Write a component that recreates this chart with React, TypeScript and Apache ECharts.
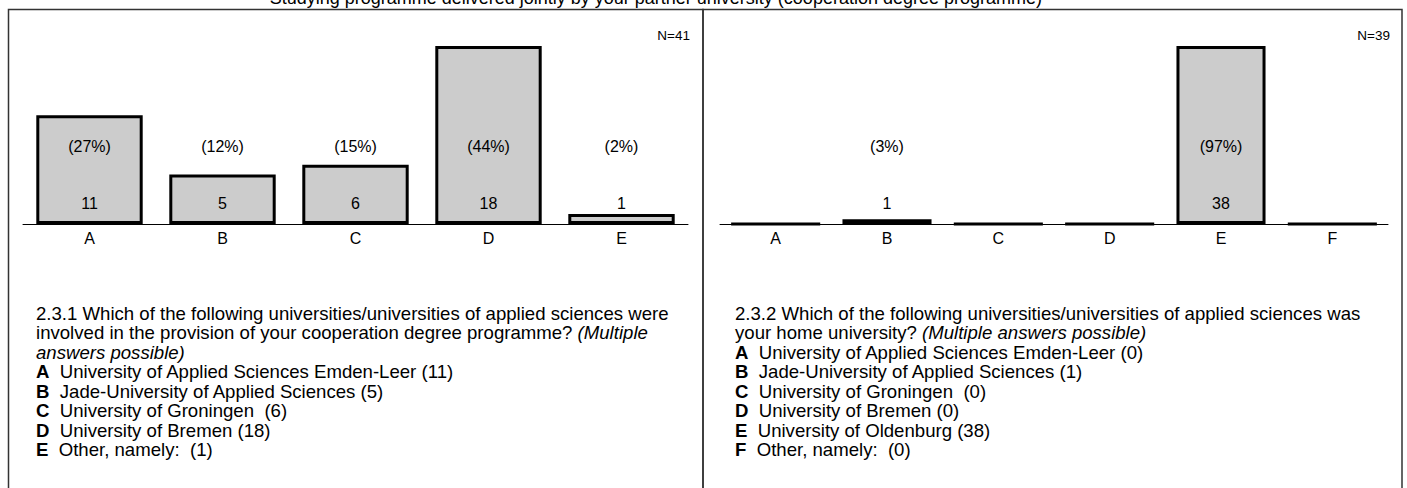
import React, { useEffect, useRef } from "react";
import * as echarts from "echarts";

const FONT = "'Liberation Sans', Arial, sans-serif";

const titleText =
  "Studying programme delivered jointly by your partner university (cooperation degree programme)";

const leftCategories = ["A", "B", "C", "D", "E"];
const leftValues = [11, 5, 6, 18, 1];
const leftN = 41;

const rightCategories = ["A", "B", "C", "D", "E", "F"];
const rightValues = [0, 1, 0, 0, 38, 0];
const rightN = 39;

type Seg = { t: string; i?: boolean };
const leftQuestionLines: Seg[][] = [
  [{ t: "2.3.1 Which of the following universities/universities of applied sciences were" }],
  [
    { t: "involved in the provision of your cooperation degree programme? " },
    { t: "(Multiple", i: true },
  ],
  [{ t: "answers possible)", i: true }],
];
const leftAnswers: [string, string][] = [
  ["A", "University of Applied Sciences Emden-Leer (11)"],
  ["B", "Jade-University of Applied Sciences (5)"],
  ["C", "University of Groningen  (6)"],
  ["D", "University of Bremen (18)"],
  ["E", "Other, namely:  (1)"],
];

const rightQuestionLines: Seg[][] = [
  [{ t: "2.3.2 Which of the following universities/universities of applied sciences was" }],
  [{ t: "your home university? " }, { t: "(Multiple answers possible)", i: true }],
];
const rightAnswers: [string, string][] = [
  ["A", "University of Applied Sciences Emden-Leer (0)"],
  ["B", "Jade-University of Applied Sciences (1)"],
  ["C", "University of Groningen  (0)"],
  ["D", "University of Bremen (0)"],
  ["E", "University of Oldenburg (38)"],
  ["F", "Other, namely:  (0)"],
];

const TEXT_SIZE = 18.6;
const LINE_H = 19.5;
const LABEL_SIZE = 16;
const rich = {
  n: { fontFamily: FONT, fontSize: TEXT_SIZE, color: "#000" },
  i: { fontFamily: FONT, fontSize: TEXT_SIZE, fontStyle: "italic", color: "#000" },
  b: { fontFamily: FONT, fontSize: TEXT_SIZE, fontWeight: "bold", color: "#000" },
};

function textBlock(x: number, y0: number, q: Seg[][], answers: [string, string][]) {
  const els: any[] = [];
  let y = y0;
  q.forEach((line) => {
    els.push({
      type: "text",
      x,
      y,
      style: {
        text: line.map((s) => `{${s.i ? "i" : "n"}|${s.t}}`).join(""),
        rich,
        fontFamily: FONT,
        fontSize: TEXT_SIZE,
        fill: "#000",
        verticalAlign: "middle",
        align: "left",
      },
    });
    y += LINE_H;
  });
  answers.forEach(([k, t]) => {
    els.push({
      type: "text",
      x,
      y,
      style: {
        text: `{b|${k}}{n|  ${t}}`,
        rich,
        fontFamily: FONT,
        fontSize: TEXT_SIZE,
        fill: "#000",
        verticalAlign: "middle",
        align: "left",
      },
    });
    y += LINE_H;
  });
  return els;
}

function barSeries(values: number[], n: number) {
  return [
    {
      type: "bar",
      data: values,
      barWidth: "80%",
      itemStyle: { color: "#cccccc", borderColor: "#000", borderWidth: 3 },
      label: {
        show: true,
        position: "insideBottom",
        distance: 13,
        color: "#000",
        fontFamily: FONT,
        fontSize: LABEL_SIZE,
        formatter: (p: any) => (p.value > 0 ? String(p.value) : ""),
      },
      z: 2,
    },
    {
      type: "bar",
      data: values,
      barWidth: "80%",
      barGap: "-100%",
      itemStyle: { color: "rgba(0,0,0,0)", borderWidth: 0 },
      label: {
        show: true,
        position: "insideBottom",
        distance: 70,
        color: "#000",
        fontFamily: FONT,
        fontSize: LABEL_SIZE,
        formatter: (p: any) =>
          p.value > 0 ? `(${Math.round((p.value / n) * 100)}%)` : "",
      },
      z: 3,
    },
  ];
}

function xAxes(cats: string[], grid: number) {
  return [
    {
      type: "category",
      gridIndex: grid,
      data: cats,
      position: "bottom",
      z: 10,
      axisLine: { onZero: true, lineStyle: { color: "#000", width: 1 } },
      axisTick: { alignWithLabel: true, length: 5, lineStyle: { color: "#000", width: 1 } },
      axisLabel: { color: "#000", fontFamily: FONT, fontSize: LABEL_SIZE, margin: 6 },
    },
    {
      type: "category",
      gridIndex: grid,
      data: cats,
      position: "top",
      z: 10,
      axisLine: { show: false, onZero: true },
      axisTick: { alignWithLabel: true, length: 5, lineStyle: { color: "#000", width: 1 } },
      axisLabel: { show: false },
    },
  ];
}

export default function App() {
  const ref = useRef<HTMLDivElement>(null);
  useEffect(() => {
    if (!ref.current) return;
    const chart = echarts.init(ref.current, undefined, { renderer: "svg" });
    const option: any = {
      animation: false,
      backgroundColor: "#fff",
      grid: [
        { left: 23, width: 665, top: 46, bottom: 264 },
        { left: 720, width: 668, top: 46, bottom: 264 },
      ],
      xAxis: [...xAxes(leftCategories, 0), ...xAxes(rightCategories, 1)],
      yAxis: [
        { type: "value", gridIndex: 0, min: 0, max: "dataMax", show: false },
        { type: "value", gridIndex: 1, min: 0, max: "dataMax", show: false },
      ],
      series: [
        ...barSeries(leftValues, leftN).map((s) => ({ ...s, xAxisIndex: 0, yAxisIndex: 0 })),
        ...barSeries(rightValues, rightN).map((s) => ({ ...s, xAxisIndex: 2, yAxisIndex: 1 })),
      ],
      graphic: [
        {
          type: "rect",
          shape: { x: 8.5, y: 9.5, width: 694.5, height: 500 },
          style: { fill: "none", stroke: "#333", lineWidth: 1.5 },
          z: 0,
        },
        {
          type: "rect",
          shape: { x: 703, y: 9.5, width: 699, height: 500 },
          style: { fill: "none", stroke: "#333", lineWidth: 1.5 },
          z: 0,
        },
        {
          type: "text",
          x: 1042,
          y: 7,
          style: {
            text: titleText,
            fontFamily: FONT,
            fontSize: 18,
            fill: "#000",
            align: "right",
            verticalAlign: "bottom",
          },
        },
        {
          type: "text",
          x: 690,
          y: 35,
          style: { text: `N=${leftN}`, fontFamily: FONT, fontSize: 13.5, fill: "#000", align: "right", verticalAlign: "middle" },
        },
        {
          type: "text",
          x: 1390,
          y: 35,
          style: { text: `N=${rightN}`, fontFamily: FONT, fontSize: 13.5, fill: "#000", align: "right", verticalAlign: "middle" },
        },
        ...textBlock(36, 313, leftQuestionLines, leftAnswers),
        ...textBlock(735, 313, rightQuestionLines, rightAnswers),
      ],
    };
    chart.setOption(option);
    return () => chart.dispose();
  }, []);
  return (
    <div
      ref={ref}
      style={{ position: "absolute", left: 0, top: 0, width: 1407, height: 488 }}
    />
  );
}
